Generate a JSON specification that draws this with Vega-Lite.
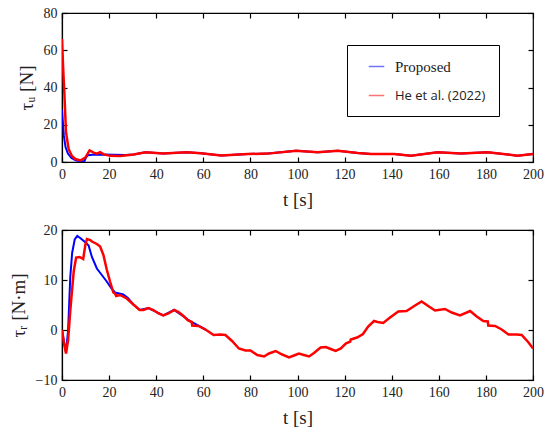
{
  "$schema": "https://vega.github.io/schema/vega-lite/v6.json",
  "padding": {"left": 8, "top": 5, "right": 5, "bottom": 5},
  "background": "white",
  "config": {
    "view": {"stroke": "black", "strokeWidth": 1.2},
    "font": "Liberation Serif, Times New Roman, serif",
    "axis": {
      "labelFont": "Liberation Serif, Times New Roman, serif",
      "labelFontSize": 14,
      "labelColor": "#222",
      "titleFont": "Liberation Serif, Times New Roman, serif",
      "titleFontSize": 19,
      "titleFontWeight": "normal",
      "titleColor": "#222",
      "tickColor": "black",
      "tickWidth": 1.2,
      "tickSize": -5,
      "labelPadding": 10,
      "domainColor": "black",
      "domainWidth": 1.2,
      "grid": false,
      "labelFlush": false
    }
  },
  "datasets": {
    "tu": [
      {"s": "Proposed", "t": 0, "v": 28},
      {"s": "Proposed", "t": 0.8, "v": 14},
      {"s": "Proposed", "t": 1.5, "v": 8},
      {"s": "Proposed", "t": 2.5, "v": 4.5},
      {"s": "Proposed", "t": 4, "v": 2.2},
      {"s": "Proposed", "t": 6, "v": 0.8},
      {"s": "Proposed", "t": 8, "v": 0.4},
      {"s": "Proposed", "t": 9.6, "v": 0.6},
      {"s": "Proposed", "t": 10.2, "v": 2.5},
      {"s": "Proposed", "t": 11, "v": 3.6},
      {"s": "Proposed", "t": 13, "v": 3.9},
      {"s": "Proposed", "t": 17, "v": 4.0},
      {"s": "Proposed", "t": 22, "v": 3.9},
      {"s": "Proposed", "t": 27, "v": 3.7},
      {"s": "Proposed", "t": 30.4, "v": 4.0},
      {"s": "Proposed", "t": 35.5, "v": 5.2},
      {"s": "Proposed", "t": 43, "v": 4.5},
      {"s": "Proposed", "t": 53, "v": 5.2},
      {"s": "Proposed", "t": 59, "v": 4.7},
      {"s": "Proposed", "t": 67.6, "v": 3.5},
      {"s": "Proposed", "t": 78.9, "v": 4.3},
      {"s": "Proposed", "t": 87.4, "v": 4.5},
      {"s": "Proposed", "t": 99.4, "v": 6.0},
      {"s": "Proposed", "t": 108.6, "v": 5.2},
      {"s": "Proposed", "t": 117.1, "v": 6.0},
      {"s": "Proposed", "t": 125.6, "v": 4.8},
      {"s": "Proposed", "t": 131.2, "v": 4.3},
      {"s": "Proposed", "t": 141.1, "v": 4.3},
      {"s": "Proposed", "t": 148.2, "v": 3.4},
      {"s": "Proposed", "t": 159.5, "v": 5.2},
      {"s": "Proposed", "t": 169.4, "v": 4.5},
      {"s": "Proposed", "t": 180.7, "v": 5.2},
      {"s": "Proposed", "t": 193.4, "v": 3.4},
      {"s": "Proposed", "t": 200, "v": 4.3},
      {"s": "He et al. (2022)", "t": 0, "v": 66},
      {"s": "He et al. (2022)", "t": 0.5, "v": 50},
      {"s": "He et al. (2022)", "t": 1, "v": 37},
      {"s": "He et al. (2022)", "t": 1.7, "v": 16},
      {"s": "He et al. (2022)", "t": 2.8, "v": 7},
      {"s": "He et al. (2022)", "t": 4.2, "v": 3.2},
      {"s": "He et al. (2022)", "t": 5.7, "v": 1.6},
      {"s": "He et al. (2022)", "t": 7.8, "v": 0.8},
      {"s": "He et al. (2022)", "t": 9.9, "v": 2.4},
      {"s": "He et al. (2022)", "t": 11.7, "v": 6.2},
      {"s": "He et al. (2022)", "t": 13.4, "v": 5.0},
      {"s": "He et al. (2022)", "t": 14.8, "v": 4.5},
      {"s": "He et al. (2022)", "t": 16.2, "v": 5.3},
      {"s": "He et al. (2022)", "t": 17.7, "v": 4.1},
      {"s": "He et al. (2022)", "t": 20.5, "v": 3.3},
      {"s": "He et al. (2022)", "t": 24.7, "v": 3.2},
      {"s": "He et al. (2022)", "t": 30.4, "v": 4.0},
      {"s": "He et al. (2022)", "t": 35.5, "v": 5.2},
      {"s": "He et al. (2022)", "t": 43, "v": 4.5},
      {"s": "He et al. (2022)", "t": 53, "v": 5.2},
      {"s": "He et al. (2022)", "t": 59, "v": 4.7},
      {"s": "He et al. (2022)", "t": 67.6, "v": 3.5},
      {"s": "He et al. (2022)", "t": 78.9, "v": 4.3},
      {"s": "He et al. (2022)", "t": 87.4, "v": 4.5},
      {"s": "He et al. (2022)", "t": 99.4, "v": 6.0},
      {"s": "He et al. (2022)", "t": 108.6, "v": 5.2},
      {"s": "He et al. (2022)", "t": 117.1, "v": 6.0},
      {"s": "He et al. (2022)", "t": 125.6, "v": 4.8},
      {"s": "He et al. (2022)", "t": 131.2, "v": 4.3},
      {"s": "He et al. (2022)", "t": 141.1, "v": 4.3},
      {"s": "He et al. (2022)", "t": 148.2, "v": 3.4},
      {"s": "He et al. (2022)", "t": 159.5, "v": 5.2},
      {"s": "He et al. (2022)", "t": 169.4, "v": 4.5},
      {"s": "He et al. (2022)", "t": 180.7, "v": 5.2},
      {"s": "He et al. (2022)", "t": 193.4, "v": 3.4},
      {"s": "He et al. (2022)", "t": 200, "v": 4.3}
    ],
    "tr": [
      {"s": "Proposed", "t": 0, "v": 0},
      {"s": "Proposed", "t": 0.8, "v": -2.3},
      {"s": "Proposed", "t": 1.7, "v": -4.4},
      {"s": "Proposed", "t": 2.6, "v": 0},
      {"s": "Proposed", "t": 3.5, "v": 10.5},
      {"s": "Proposed", "t": 4.3, "v": 15.4},
      {"s": "Proposed", "t": 5.4, "v": 18.1},
      {"s": "Proposed", "t": 6.5, "v": 18.8},
      {"s": "Proposed", "t": 8, "v": 18.3},
      {"s": "Proposed", "t": 10, "v": 17.5},
      {"s": "Proposed", "t": 11.3, "v": 16.9},
      {"s": "Proposed", "t": 12.7, "v": 14.6},
      {"s": "Proposed", "t": 14.8, "v": 12.3},
      {"s": "Proposed", "t": 16.9, "v": 11},
      {"s": "Proposed", "t": 19, "v": 9.7},
      {"s": "Proposed", "t": 21, "v": 8.3},
      {"s": "Proposed", "t": 22.5, "v": 7.5},
      {"s": "Proposed", "t": 26, "v": 7.1},
      {"s": "Proposed", "t": 28, "v": 6.4},
      {"s": "Proposed", "t": 30.3, "v": 5.1},
      {"s": "Proposed", "t": 33, "v": 4.0},
      {"s": "Proposed", "t": 36.7, "v": 4.4},
      {"s": "Proposed", "t": 43, "v": 2.9},
      {"s": "Proposed", "t": 47.6, "v": 4.0},
      {"s": "Proposed", "t": 55, "v": 1.6},
      {"s": "Proposed", "t": 60.9, "v": 0.1},
      {"s": "He et al. (2022)", "t": 0, "v": 0},
      {"s": "He et al. (2022)", "t": 0.8, "v": -2.5},
      {"s": "He et al. (2022)", "t": 1.7, "v": -4.7},
      {"s": "He et al. (2022)", "t": 2.6, "v": -2},
      {"s": "He et al. (2022)", "t": 3.5, "v": 3.8},
      {"s": "He et al. (2022)", "t": 5, "v": 11.8},
      {"s": "He et al. (2022)", "t": 6, "v": 14.5},
      {"s": "He et al. (2022)", "t": 7.5, "v": 14.6},
      {"s": "He et al. (2022)", "t": 9, "v": 14.2},
      {"s": "He et al. (2022)", "t": 9.9, "v": 17},
      {"s": "He et al. (2022)", "t": 10.6, "v": 18.2},
      {"s": "He et al. (2022)", "t": 12, "v": 18.0},
      {"s": "He et al. (2022)", "t": 12.7, "v": 17.7},
      {"s": "He et al. (2022)", "t": 14.8, "v": 17.2},
      {"s": "He et al. (2022)", "t": 16.2, "v": 16.7},
      {"s": "He et al. (2022)", "t": 17.6, "v": 15},
      {"s": "He et al. (2022)", "t": 19, "v": 12.1},
      {"s": "He et al. (2022)", "t": 20.4, "v": 9.7},
      {"s": "He et al. (2022)", "t": 21.8, "v": 7.5},
      {"s": "He et al. (2022)", "t": 22.5, "v": 7.3},
      {"s": "He et al. (2022)", "t": 23, "v": 6.8},
      {"s": "He et al. (2022)", "t": 24.6, "v": 7.0},
      {"s": "He et al. (2022)", "t": 27.5, "v": 6.3},
      {"s": "He et al. (2022)", "t": 30.3, "v": 5.1},
      {"s": "He et al. (2022)", "t": 33, "v": 4.0},
      {"s": "He et al. (2022)", "t": 34.6, "v": 4.0},
      {"s": "He et al. (2022)", "t": 36.7, "v": 4.4},
      {"s": "He et al. (2022)", "t": 38.8, "v": 4.0},
      {"s": "He et al. (2022)", "t": 41, "v": 3.3},
      {"s": "He et al. (2022)", "t": 43, "v": 2.9},
      {"s": "He et al. (2022)", "t": 45.2, "v": 3.3},
      {"s": "He et al. (2022)", "t": 47.6, "v": 4.0},
      {"s": "He et al. (2022)", "t": 49.5, "v": 3.6},
      {"s": "He et al. (2022)", "t": 51.6, "v": 2.8},
      {"s": "He et al. (2022)", "t": 53.5, "v": 1.9},
      {"s": "He et al. (2022)", "t": 55.1, "v": 1.6},
      {"s": "He et al. (2022)", "t": 55.3, "v": 0.9},
      {"s": "He et al. (2022)", "t": 58, "v": 0.8},
      {"s": "He et al. (2022)", "t": 60.9, "v": 0.1},
      {"s": "He et al. (2022)", "t": 64.4, "v": -1.0},
      {"s": "He et al. (2022)", "t": 67.3, "v": -0.9},
      {"s": "He et al. (2022)", "t": 69.4, "v": -1.0},
      {"s": "He et al. (2022)", "t": 72.2, "v": -2.2},
      {"s": "He et al. (2022)", "t": 75.1, "v": -3.7},
      {"s": "He et al. (2022)", "t": 77.9, "v": -4.1},
      {"s": "He et al. (2022)", "t": 80, "v": -4.1},
      {"s": "He et al. (2022)", "t": 82.9, "v": -5.0},
      {"s": "He et al. (2022)", "t": 85.8, "v": -5.3},
      {"s": "He et al. (2022)", "t": 87.9, "v": -4.7},
      {"s": "He et al. (2022)", "t": 90.7, "v": -4.2},
      {"s": "He et al. (2022)", "t": 93.5, "v": -4.9},
      {"s": "He et al. (2022)", "t": 96.4, "v": -5.5},
      {"s": "He et al. (2022)", "t": 98.5, "v": -5.1},
      {"s": "He et al. (2022)", "t": 100.6, "v": -4.7},
      {"s": "He et al. (2022)", "t": 102.7, "v": -5.0},
      {"s": "He et al. (2022)", "t": 104.9, "v": -5.3},
      {"s": "He et al. (2022)", "t": 107, "v": -4.6},
      {"s": "He et al. (2022)", "t": 109.8, "v": -3.5},
      {"s": "He et al. (2022)", "t": 112, "v": -3.4},
      {"s": "He et al. (2022)", "t": 114.1, "v": -3.8},
      {"s": "He et al. (2022)", "t": 116.2, "v": -4.2},
      {"s": "He et al. (2022)", "t": 118.4, "v": -3.7},
      {"s": "He et al. (2022)", "t": 120.5, "v": -2.7},
      {"s": "He et al. (2022)", "t": 122.4, "v": -2.3},
      {"s": "He et al. (2022)", "t": 122.6, "v": -1.9},
      {"s": "He et al. (2022)", "t": 125.3, "v": -1.5},
      {"s": "He et al. (2022)", "t": 127.8, "v": -0.8},
      {"s": "He et al. (2022)", "t": 130, "v": 0.7},
      {"s": "He et al. (2022)", "t": 132.5, "v": 1.8},
      {"s": "He et al. (2022)", "t": 134, "v": 1.6},
      {"s": "He et al. (2022)", "t": 136.4, "v": 1.4},
      {"s": "He et al. (2022)", "t": 139.3, "v": 2.5},
      {"s": "He et al. (2022)", "t": 142.8, "v": 3.7},
      {"s": "He et al. (2022)", "t": 146.3, "v": 3.8},
      {"s": "He et al. (2022)", "t": 149.9, "v": 4.9},
      {"s": "He et al. (2022)", "t": 152.7, "v": 5.7},
      {"s": "He et al. (2022)", "t": 155.5, "v": 4.8},
      {"s": "He et al. (2022)", "t": 158.4, "v": 3.9},
      {"s": "He et al. (2022)", "t": 162.6, "v": 4.2},
      {"s": "He et al. (2022)", "t": 165.5, "v": 3.5},
      {"s": "He et al. (2022)", "t": 169, "v": 2.9},
      {"s": "He et al. (2022)", "t": 173.3, "v": 3.8},
      {"s": "He et al. (2022)", "t": 176.1, "v": 2.7},
      {"s": "He et al. (2022)", "t": 178.9, "v": 1.8},
      {"s": "He et al. (2022)", "t": 180.8, "v": 1.7},
      {"s": "He et al. (2022)", "t": 181, "v": 0.9},
      {"s": "He et al. (2022)", "t": 183.9, "v": 0.8},
      {"s": "He et al. (2022)", "t": 186.7, "v": 0.1},
      {"s": "He et al. (2022)", "t": 189.6, "v": -0.9},
      {"s": "He et al. (2022)", "t": 193.1, "v": -0.9},
      {"s": "He et al. (2022)", "t": 195.2, "v": -1.0},
      {"s": "He et al. (2022)", "t": 198.1, "v": -2.5},
      {"s": "He et al. (2022)", "t": 200, "v": -3.7}
    ]
  },
  "spacing": 12,
  "resolve": {"scale": {"color": "independent"}, "legend": {"color": "independent"}},
  "vconcat": [
    {
      "width": 471,
      "height": 149,
      "data": {"name": "tu"},
      "resolve": {"scale": {"x": "independent", "y": "independent"}},
      "layer": [
        {
          "transform": [{"filter": "datum.s == 'Proposed'"}],
          "mark": {"type": "line", "strokeWidth": 2, "clip": true},
          "encoding": {
            "x": {"field": "t", "type": "quantitative", "scale": {"domain": [0, 200], "nice": false},
                  "axis": {"orient": "top", "labels": false, "title": null, "domain": false, "values": [0,20,40,60,80,100,120,140,160,180,200]}},
            "y": {"field": "v", "type": "quantitative", "scale": {"domain": [0, 80], "nice": false},
                  "axis": {"orient": "right", "labels": false, "title": null, "domain": false, "values": [0,20,40,60,80]}},
            "color": {"field": "s", "type": "nominal",
                      "scale": {"domain": ["Proposed", "He et al. (2022)"], "range": ["#0000ff", "#ff0000"]},
                      "legend": {"title": null, "orient": "none", "legendX": 285, "legendY": 32,
                                 "strokeColor": "black", "fillColor": "white", "padding": 13,
                                 "symbolType": "stroke", "symbolSize": 240, "symbolStrokeWidth": 1.5, "symbolOpacity": 0.55,
                                 "symbolOffset": 8, "labelOffset": 10, "rowPadding": 12,
                                 "labelFont": {"expr": "datum.label == 'Proposed' ? 'Liberation Serif, Times New Roman, serif' : 'Open Sans'"},
                                 "labelFontSize": {"expr": "datum.label == 'Proposed' ? 15 : 13"},
                                 "labelColor": "#222", "labelLimit": 300}}
          }
        },
        {
          "transform": [{"filter": "datum.s == 'He et al. (2022)'"}],
          "mark": {"type": "line", "strokeWidth": 2.5, "clip": true},
          "encoding": {
            "x": {"field": "t", "type": "quantitative", "scale": {"domain": [0, 200], "nice": false},
                  "axis": {"orient": "bottom", "title": "t [s]", "titlePadding": 9, "values": [0,20,40,60,80,100,120,140,160,180,200]}},
            "y": {"field": "v", "type": "quantitative", "scale": {"domain": [0, 80], "nice": false},
                  "axis": {"orient": "left", "title": "τᵤ [N]", "titlePadding": 7, "values": [0,20,40,60,80]}},
            "color": {"field": "s", "type": "nominal",
                      "scale": {"domain": ["Proposed", "He et al. (2022)"], "range": ["#0000ff", "#ff0000"]}}
          }
        }
      ]
    },
    {
      "width": 471,
      "height": 150,
      "data": {"name": "tr"},
      "resolve": {"scale": {"x": "independent", "y": "independent"}},
      "layer": [
        {
          "transform": [{"filter": "datum.s == 'Proposed'"}],
          "mark": {"type": "line", "strokeWidth": 2, "clip": true},
          "encoding": {
            "x": {"field": "t", "type": "quantitative", "scale": {"domain": [0, 200], "nice": false},
                  "axis": {"orient": "top", "labels": false, "title": null, "domain": false, "values": [0,20,40,60,80,100,120,140,160,180,200]}},
            "y": {"field": "v", "type": "quantitative", "scale": {"domain": [-10, 20], "nice": false},
                  "axis": {"orient": "right", "labels": false, "title": null, "domain": false, "values": [-10,0,10,20]}},
            "color": {"field": "s", "type": "nominal",
                      "scale": {"domain": ["Proposed", "He et al. (2022)"], "range": ["#0000ff", "#ff0000"]}, "legend": null}
          }
        },
        {
          "transform": [{"filter": "datum.s == 'He et al. (2022)'"}],
          "mark": {"type": "line", "strokeWidth": 2.5, "clip": true},
          "encoding": {
            "x": {"field": "t", "type": "quantitative", "scale": {"domain": [0, 200], "nice": false},
                  "axis": {"orient": "bottom", "title": "t [s]", "titlePadding": 9, "values": [0,20,40,60,80,100,120,140,160,180,200]}},
            "y": {"field": "v", "type": "quantitative", "scale": {"domain": [-10, 20], "nice": false},
                  "axis": {"orient": "left", "title": "τᵣ [N·m]", "titlePadding": 7, "values": [-10,0,10,20]}},
            "color": {"field": "s", "type": "nominal",
                      "scale": {"domain": ["Proposed", "He et al. (2022)"], "range": ["#0000ff", "#ff0000"]}, "legend": null}
          }
        }
      ]
    }
  ]
}
